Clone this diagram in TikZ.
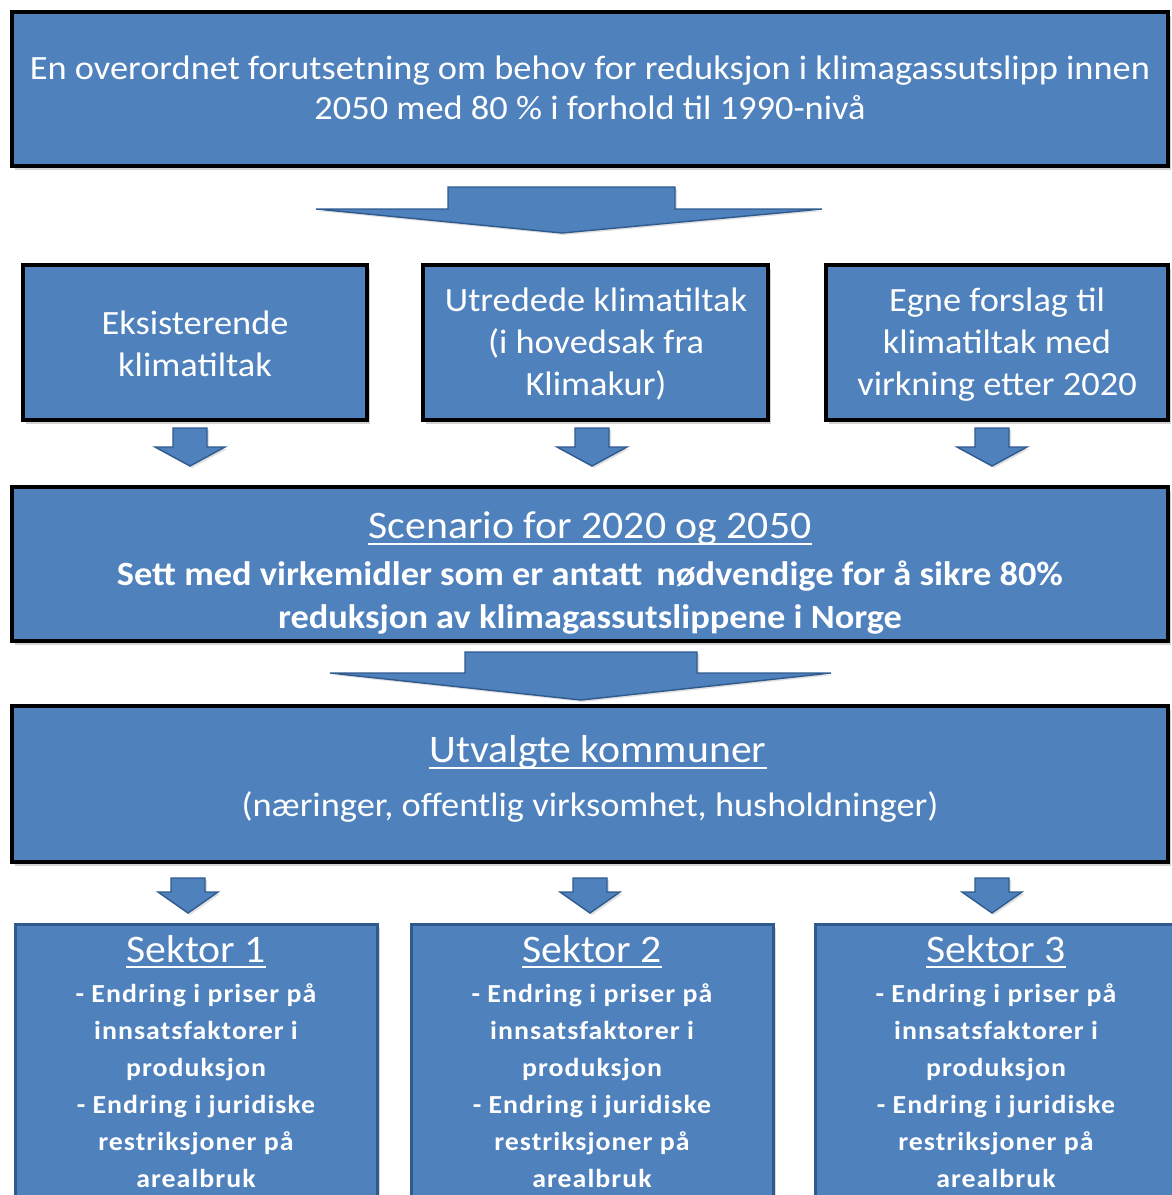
\documentclass[tikz,border=0pt]{standalone}
\usepackage{fontspec}
\setmainfont{Carlito}[FakeStretch=1.07]
\usetikzlibrary{shadows}
\definecolor{boxblue}{HTML}{4F81BD}
\definecolor{edgeblue}{HTML}{2F5A8E}
\newcommand{\fsz}[2]{\fontsize{#1pt}{#2pt}\selectfont}
\tikzset{
  box/.style={draw=black, line width=3.5pt, fill=boxblue, inner sep=0pt,
    drop shadow={opacity=0.35, shadow xshift=3pt, shadow yshift=-4pt}},
  sbox/.style={draw=edgeblue, line width=3pt, fill=boxblue, inner sep=0pt,
    drop shadow={opacity=0.3, shadow xshift=3pt, shadow yshift=-3pt}},
  txt/.style={text=white, align=center, inner sep=0pt},
  uline/.style={draw=white, line width=1.8pt},
  blockarrow/.style={fill=boxblue, draw=edgeblue, line width=1.4pt, line join=miter,
    drop shadow={opacity=0.25, shadow xshift=2pt, shadow yshift=-2pt}},
}
\begin{document}
\begin{tikzpicture}[x=1pt,y=-1pt]
\useasboundingbox (0,0) rectangle (1171,1195);
\fill[white] (0,0) rectangle (1171,1195);

% top box
\node[box, minimum width=1156pt, minimum height=154pt] (top) at (590,89) {};
\node[txt, font=\fsz{34}{40}] (toptxt) at (590,88) {En overordnet forutsetning om behov for reduksjon i klimagassutslipp innen\\2050 med 80 \% i forhold til 1990-nivå};

% big arrow 1
\draw[blockarrow] (448,187) -- (675,187) -- (675,209) -- (822,209) -- (562,233) -- (316,209) -- (448,209) -- cycle;

% middle row
\node[box, minimum width=344pt, minimum height=155pt] (m1) at (195,342.5) {};
\node[box, minimum width=345pt, minimum height=155pt] (m2) at (595.5,342.5) {};
\node[box, minimum width=342pt, minimum height=155pt] (m3) at (997,342.5) {};
\node[txt, font=\fsz{34}{42}] (m1txt) at (195,344) {Eksisterende\\klimatiltak};
\node[txt, font=\fsz{34}{42}] (m2txt) at (596,344.5) {Utredede klimatiltak\\(i hovedsak fra\\Klimakur)};
\node[txt, font=\fsz{34}{42}] (m3txt) at (997,344.5) {Egne forslag til\\klimatiltak med\\virkning etter 2020};

% small arrows row 1
\foreach \cx in {190, 592, 992}{
  \draw[blockarrow] (\cx-17,428) -- (\cx+17,428) -- (\cx+17,447) -- (\cx+35,447) -- (\cx,466) -- (\cx-35,447) -- (\cx-17,447) -- cycle;
}

% scenario box
\node[box, minimum width=1156pt, minimum height=154pt] (sc) at (590,564) {};
\node[txt, font=\fsz{39}{44}, anchor=base] (sctitle) at (590,538) {Scenario for 2020 og 2050};
\draw[uline] ([yshift=-6pt]sctitle.base west) -- ([yshift=-6pt]sctitle.base east);
\node[txt, font=\fsz{34}{43}\bfseries] (sctxt) at (590,597.5) {Sett med virkemidler som er antatt\, nødvendige for å sikre 80\%\\reduksjon av klimagassutslippene i Norge};

% big arrow 2
\draw[blockarrow] (465,652) -- (697,652) -- (697,673) -- (831,673) -- (581,700) -- (330,673) -- (465,673) -- cycle;

% utvalgte box
\node[box, minimum width=1156pt, minimum height=156pt] (ut) at (590,784) {};
\node[txt, font=\fsz{39}{44}, anchor=base] (uttitle) at (598,762) {Utvalgte kommuner};
\draw[uline] ([yshift=-6pt]uttitle.base west) -- ([yshift=-6pt]uttitle.base east);
\node[txt, font=\fsz{34}{40}, anchor=base] (utsub) at (590,816) {(næringer, offentlig virksomhet, husholdninger)};

% small arrows row 2
\foreach \cx in {188, 590, 992}{
  \draw[blockarrow] (\cx-17,878) -- (\cx+17,878) -- (\cx+17,892) -- (\cx+30,892) -- (\cx,913) -- (\cx-30,892) -- (\cx-17,892) -- cycle;
}

% sektor boxes
\foreach \cx/\n in {196/1, 592/2, 996/3}{
  \node[sbox, minimum width=362pt, minimum height=320pt, anchor=north] (s\n) at (\cx,923) {};
  \node[txt, font=\fsz{39}{44}, anchor=base] (s\n title) at (\cx,962) {Sektor \n};
  \draw[uline] ([yshift=-5pt]s\n title.base west) -- ([yshift=-5pt]s\n title.base east);
  \node[txt, font={\fsz{26}{37}\bfseries\addfontfeature{LetterSpace=4}}] (s\n txt) at (\cx,1086) {- Endring i priser på\\innsatsfaktorer i\\produksjon\\- Endring i juridiske\\restriksjoner på\\arealbruk};
}
\end{tikzpicture}
\end{document}
